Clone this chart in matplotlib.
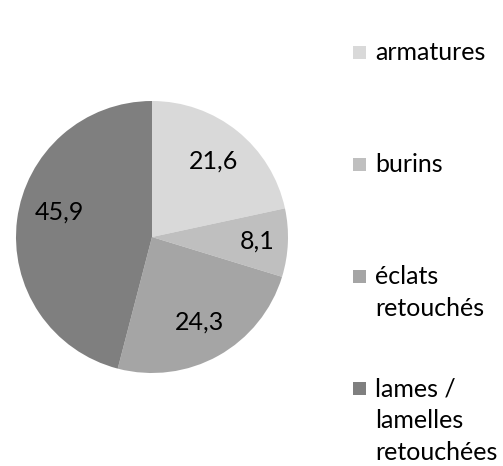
import matplotlib
matplotlib.use('Agg')
import matplotlib.pyplot as plt
from matplotlib.patches import Rectangle

# Répartition de l'outillage (%)
categories = ['armatures', 'burins', 'éclats\nretouchés', 'lames /\nlamelles\nretouchées']
values = [21.6, 8.1, 24.3, 45.9]
value_labels = ['21,6', '8,1', '24,3', '45,9']
colors = ['#d9d9d9', '#bfbfbf', '#a5a5a5', '#7f7f7f']

W, H = 503, 466
plt.rcParams['font.family'] = ['Lato', 'DejaVu Sans']

fig = plt.figure(figsize=(W / 100, H / 100), dpi=100)

# pie: centre (152, 237) px, radius 136 px
cx, cy, r = 152, 237, 136
ax = fig.add_axes([(cx - r) / W, (H - cy - r) / H, 2 * r / W, 2 * r / H])
wedges, texts = ax.pie(values, colors=colors, startangle=90, counterclock=False,
                       labels=value_labels, labeldistance=0.72,
                       wedgeprops=dict(linewidth=0),
                       textprops=dict(fontsize=18, color='black'))
for t in texts:
    t.set_ha('center')
    t.set_va('center')
# petite part un peu plus vers l'extérieur, grande part remontée
x, y = texts[1].get_position()
texts[1].set_position((x * 1.07, y * 1.07))
texts[3].set_position((-0.68, 0.18))
ax.set_xlim(-1, 1)
ax.set_ylim(-1, 1)
ax.set_aspect('equal')

# légende à droite, une entrée tous les 112 px
sq = 13
for i, (lab, col) in enumerate(zip(categories, colors)):
    y0 = 53 + i * 112
    fig.patches.append(Rectangle((353 / W, 1 - (y0 - 1 + sq / 2) / H), sq / W, sq / H,
                                 transform=fig.transFigure, facecolor=col,
                                 edgecolor='none'))
    for j, line in enumerate(lab.split('\n')):
        fig.text(375 / W, 1 - (y0 + j * 32) / H, line, fontsize=18,
                 ha='left', va='center', color='black')

fig.savefig('out.png', dpi=100, facecolor='white')
